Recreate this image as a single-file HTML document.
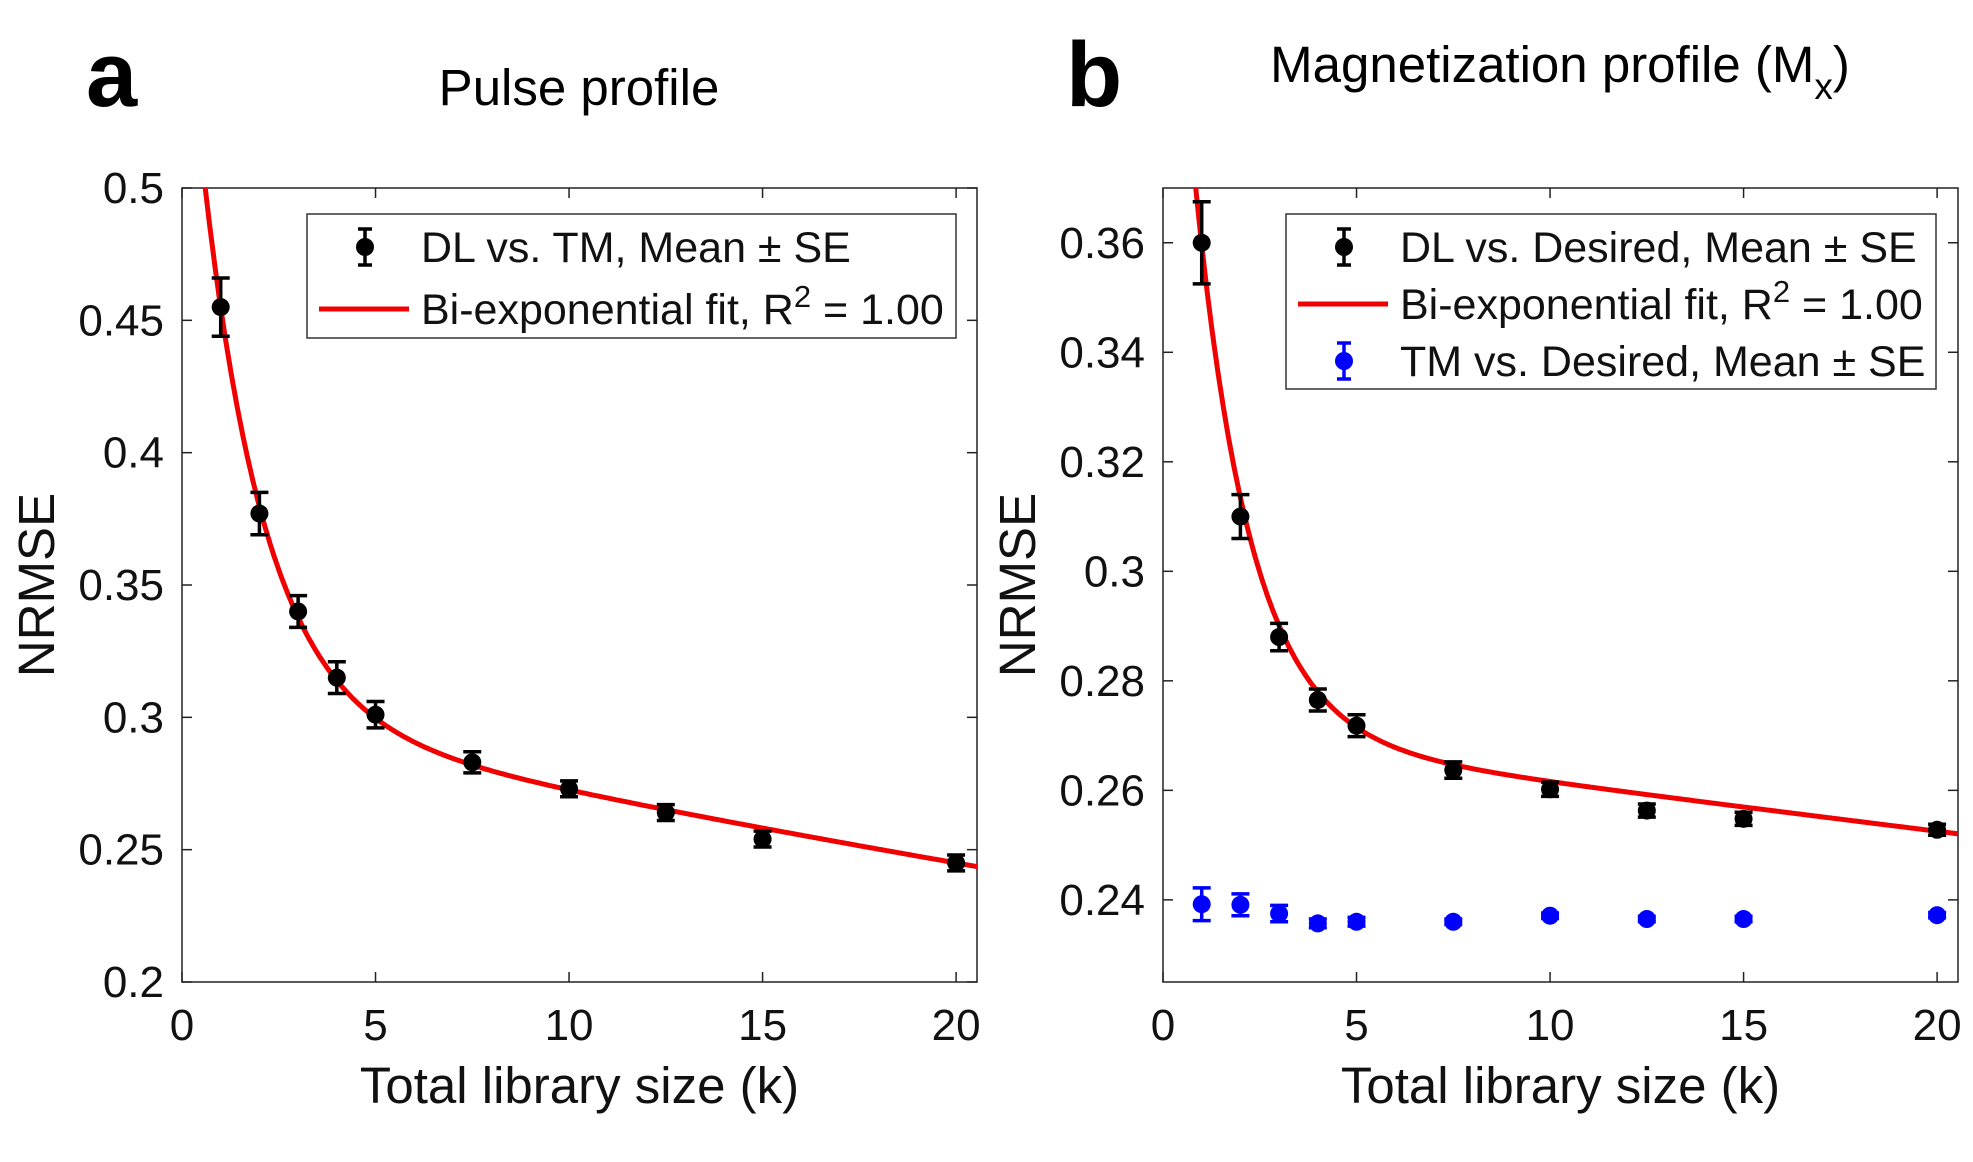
<!DOCTYPE html>
<html><head><meta charset="utf-8"><style>
html,body{margin:0;padding:0;background:#fff;}
svg{display:block;font-family:"Liberation Sans",Arial,sans-serif;}
</style></head><body>
<svg id="fig" width="1973" height="1162" viewBox="0 0 1973 1162" xmlns="http://www.w3.org/2000/svg">
<text x="86" y="106" font-size="92" font-weight="bold">a</text>
<text x="1066" y="106" font-size="92" font-weight="bold">b</text>
<text x="579" y="105" font-size="51" text-anchor="middle">Pulse profile</text>
<text x="1560" y="82" font-size="51" text-anchor="middle">Magnetization profile (M<tspan dy="17" font-size="37">x</tspan><tspan dy="-17">)</tspan></text>
<g id="pa"></g>
<g id="pb"></g>
</svg>
<script>
// Panel a data
const xCats = [1, 2, 3, 4, 5, 7.5, 10, 12.5, 15, 20];
const aMean = [0.455, 0.377, 0.340, 0.315, 0.301, 0.283, 0.273, 0.264, 0.254, 0.245];
const aErr = [0.011, 0.008, 0.006, 0.006, 0.005, 0.004, 0.003, 0.003, 0.003, 0.003];
const aFit = [0.290, -0.62, 0.302, -0.01046];
const aYTicks = [0.2, 0.25, 0.3, 0.35, 0.4, 0.45, 0.5];
const aYLabels = ["0.2", "0.25", "0.3", "0.35", "0.4", "0.45", "0.5"];
// Panel b data
const bMean = [0.360, 0.310, 0.288, 0.2765, 0.2718, 0.2637, 0.2602, 0.2563, 0.2548, 0.2528];
const bErr = [0.0075, 0.004, 0.0025, 0.002, 0.002, 0.0015, 0.0013, 0.0012, 0.0012, 0.001];
const bTM = [0.2392, 0.2391, 0.2375, 0.2357, 0.2360, 0.2360, 0.2371, 0.2365, 0.2365, 0.2372];
const bTMErr = [0.003, 0.002, 0.0015, 0.0008, 0.0008, 0.0005, 0.0005, 0.0005, 0.0005, 0.0005];
const bFit = [0.181, -0.70, 0.2707, -0.003473];
const bYTicks = [0.24, 0.26, 0.28, 0.3, 0.32, 0.34, 0.36];
const bYLabels = ["0.24", "0.26", "0.28", "0.3", "0.32", "0.34", "0.36"];
const xTicks = [0, 5, 10, 15, 20];
const xLabels = ["0", "5", "10", "15", "20"];

const NS = "http://www.w3.org/2000/svg";
function mk(parent, tag, attrs, txt) {
  const e = document.createElementNS(NS, tag);
  for (const k in attrs) e.setAttribute(k, attrs[k]);
  if (txt !== undefined) e.textContent = txt;
  parent.appendChild(e);
  return e;
}

function panel(g, L, R, T, B, ymin, ymax, yt, yl, series, fit, legendItems, legBox) {
  const xmin = 0, xmax = 20.54;
  const sx = v => L + (v - xmin) / (xmax - xmin) * (R - L);
  const sy = v => B - (v - ymin) / (ymax - ymin) * (B - T);
  const clip = "clip" + L;
  const defs = mk(g, "defs", {});
  const cp = mk(defs, "clipPath", {id: clip});
  mk(cp, "rect", {x: L, y: T, width: R - L, height: B - T});
  const frame = mk(g, "rect", {x: L, y: T, width: R - L, height: B - T, fill: "none", stroke: "#222", "stroke-width": 1.5});
  
  
  yt.forEach((v, i) => {
    const y = sy(v);
    mk(g, "line", {x1: L, x2: L + 10, y1: y, y2: y, stroke: "#222", "stroke-width": 1.5});
    mk(g, "line", {x1: R, x2: R - 10, y1: y, y2: y, stroke: "#222", "stroke-width": 1.5});
    const t = mk(g, "text", {x: L - 18, y: y + 15, "font-size": 44, "text-anchor": "end", fill: "#111"}, yl[i]);
    
    
  });
  xTicks.forEach((v, i) => {
    const x = sx(v);
    mk(g, "line", {x1: x, x2: x, y1: B, y2: B - 10, stroke: "#222", "stroke-width": 1.5});
    mk(g, "line", {x1: x, x2: x, y1: T, y2: T + 10, stroke: "#222", "stroke-width": 1.5});
    const t = mk(g, "text", {x: x, y: B + 58, "font-size": 44, "text-anchor": "middle", fill: "#111"}, xLabels[i]);
    
    
  });
  const xl = mk(g, "text", {x: (L + R) / 2, y: 1103, "font-size": 51, "text-anchor": "middle", fill: "#111"}, "Total library size (k)");
  
  
  const yx = L - 128, yy = (T + B) / 2;
  const ylab = mk(g, "text", {x: yx, y: yy, "font-size": 51, "text-anchor": "middle", transform: `rotate(-90 ${yx} ${yy})`, fill: "#111"}, "NRMSE");
  
  
  // fit line
  let d = "";
  for (let i = 0; i <= 400; i++) {
    const x = 0.3 + i * (20.6 - 0.3) / 400;
    const y = fit[0] * Math.exp(fit[1] * x) + fit[2] * Math.exp(fit[3] * x);
    d += (i ? "L" : "M") + sx(x).toFixed(1) + "," + sy(y).toFixed(1);
  }
  const fl = mk(g, "path", {d: d, fill: "none", stroke: "#f00000", "stroke-width": 5, "clip-path": `url(#${clip})`});
  
  
  series.forEach(s => {
    xCats.forEach((xv, i) => {
      const x = sx(xv), y = sy(s.m[i]), y1 = sy(s.m[i] + s.e[i]), y2 = sy(s.m[i] - s.e[i]);
      const eb = mk(g, "path", {d: `M${x},${y1}L${x},${y2}M${x - 9},${y1}L${x + 9},${y1}M${x - 9},${y2}L${x + 9},${y2}`, stroke: s.c, "stroke-width": 3.5, fill: "none"});
      
      
      const p = mk(g, "circle", {cx: x, cy: y, r: 9, fill: s.c});
      
      
    });
  });
  // legend
  const lb = mk(g, "rect", {x: legBox[0], y: legBox[1], width: legBox[2], height: legBox[3], fill: "#fff", stroke: "#333", "stroke-width": 1.5});
  
  
  legendItems.forEach((it, i) => {
    const by = legBox[1] + 33 + i * it.dy;
    const mx = legBox[0] + 58;
    if (it.type === "line") {
      mk(g, "line", {x1: legBox[0] + 12, x2: legBox[0] + 102, y1: by, y2: by, stroke: "#f00000", "stroke-width": 5});
    } else {
      mk(g, "path", {d: `M${mx},${by - 18}L${mx},${by + 18}M${mx - 7},${by - 18}L${mx + 7},${by - 18}M${mx - 7},${by + 18}L${mx + 7},${by + 18}`, stroke: it.c, "stroke-width": 3.5});
      mk(g, "circle", {cx: mx, cy: by, r: 9, fill: it.c});
    }
    const t = mk(g, "text", {x: legBox[0] + 114, y: by + 15, "font-size": 43, fill: "#111"});
    
    
    if (it.sup) {
      t.appendChild(document.createTextNode("Bi-exponential fit, R"));
      mk(t, "tspan", {dy: -17, "font-size": 31}, "2");
      mk(t, "tspan", {dy: 17}, " = 1.00");
    } else t.textContent = it.t;
  });
}

panel(document.getElementById("pa"), 182, 977, 188, 982, 0.2, 0.5, aYTicks, aYLabels,
  [{m: aMean, e: aErr, c: "#000"}], aFit,
  [{type: "eb", c: "#000", t: "DL vs. TM, Mean \u00b1 SE", dy: 62}, {type: "line", sup: true, dy: 62}],
  [307, 214, 649, 124]);
panel(document.getElementById("pb"), 1163, 1958, 188, 982, 0.225, 0.370, bYTicks, bYLabels,
  [{m: bMean, e: bErr, c: "#000"}, {m: bTM, e: bTMErr, c: "#0000ff"}], bFit,
  [{type: "eb", c: "#000", t: "DL vs. Desired, Mean \u00b1 SE", dy: 57}, {type: "line", sup: true, dy: 57}, {type: "eb", c: "#0000ff", t: "TM vs. Desired, Mean \u00b1 SE", dy: 57}],
  [1286, 214, 650, 175]);
</script>
</body></html>
